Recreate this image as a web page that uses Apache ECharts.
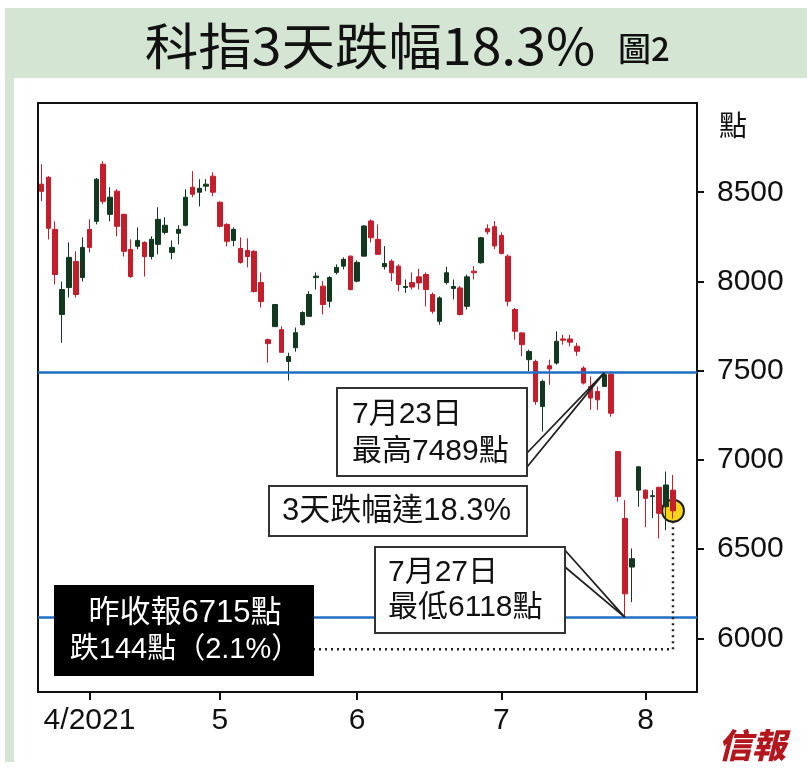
<!DOCTYPE html>
<html>
<head>
<meta charset="utf-8">
<style>
html,body{margin:0;padding:0;background:#ffffff;}
#c{width:807px;height:775px;}
</style>
<script src="https://cdn.jsdelivr.net/npm/echarts@6/dist/echarts.min.js"></script>
</head>
<body>
<div id="c"></div>
<script>
// ---- trading days (2021) ----
const marchDays  = [23,24,25,26,29,30,31];
const aprilDays  = [1,7,8,9,12,13,14,15,16,19,20,21,22,23,26,27,28,29,30];
const mayDays    = [3,4,5,6,7,10,11,12,13,14,17,18,20,21,24,25,26,27,28,31];
const juneDays   = [1,2,3,4,7,8,9,10,11,15,16,17,18,21,22,23,24,25,28,29,30];
const julyDays   = [2,5,6,7,8,9,12,13,14,15,16,19,20,21,22,23,26,27,28,29,30];
const augustDays = [2,3,4,5,6];
const emptyAugustSlots = [9,10,11];

// ---- OHLC values (points) ----
const opens = [
 8545,8584,8292,7815,7966,8112,8022,
 8292,8337,8657,8376,8506,8376,8180,8197,8219,8140,8208,8275,8163,8270,8315,8528,8500,8534,8590,
 8444,8320,8230,8185,8174,8169,7994,7674,7747,7730,7552,7629,7758,7805,8022,7974,7889,8051,8086,8142,
 8002,8142,8339,8236,8083,8114,8086,7966,7994,8026,8039,7927,7777,7994,7961,7964,7861,8058,8105,8296,8307,
 8258,8142,7843,7712,7562,7552,7300,7528,7543,7678,7678,7637,7515,7412,7384,7412,7480,7047,6672,6400,6831,
 6831,6795,6847,6738,6831
];
const closes = [
 8505,8298,8039,7955,8135,7927,8191,
 8191,8573,8449,8472,8309,8169,8028,8230,8140,8236,8348,8315,8191,8292,8472,8489,8522,8545,8500,
 8309,8225,8292,8107,8140,7944,7888,7652,7871,7603,7580,7713,7826,7927,8030,7871,8022,8079,8124,7955,
 8107,8311,8245,8152,8101,8049,7983,7972,7969,7992,7955,7833,7908,8049,7972,7815,8026,8049,8245,8278,8199,
 8157,7889,7721,7646,7608,7327,7440,7510,7665,7671,7660,7609,7431,7347,7337,7478,7262,6795,6250,6447,6962,
 6785,6800,6701,6860,6715
];
const lows = [
 8450,8236,7983,7657,7910,7910,8000,
 8163,8320,8433,8337,8253,8140,8020,8180,8028,8124,8152,8264,8124,8208,8309,8472,8421,8506,8478,
 8303,8197,8197,8100,8079,7938,7854,7545,7747,7600,7445,7607,7753,7805,7955,7815,7854,8040,8068,7950,
 7995,8142,8219,8152,8067,8002,7945,7936,7955,7955,7860,7820,7758,7983,7899,7810,7843,8011,8100,8264,8180,
 8152,7861,7674,7581,7497,7309,7159,7421,7534,7646,7637,7584,7423,7281,7281,7412,7243,6767,6118,6204,6738,
 6624,6674,6560,6607,6672
];
const highs = [
 8657,8590,8337,8000,8219,8169,8247,
 8348,8580,8674,8528,8517,8380,8236,8303,8225,8253,8416,8360,8230,8315,8517,8618,8573,8573,8612,
 8449,8326,8303,8247,8242,8175,8051,7680,7871,7749,7601,7742,7833,7945,8051,8002,8030,8096,8135,8145,
 8118,8315,8348,8320,8198,8124,8096,8011,8051,8071,8051,7938,7917,8083,8011,7975,8039,8086,8250,8320,8339,
 8275,8152,7852,7715,7618,7562,7450,7562,7721,7702,7702,7656,7525,7468,7412,7489,7489,7047,6775,6504,6962,
 6835,6831,6850,6935,6916
];

// ---- ticks / labels / annotations ----
const monthLabels = {'2021-04-01':'4/2021','2021-05-03':'5','2021-06-01':'6','2021-07-02':'7','2021-08-02':'8'};
const yTicks = [6000,6500,7000,7500,8000,8500];
const yMin = 5700, yMax = 9000;
const peakDate = '2021-07-23', peakValue = 7489;
const troughDate = '2021-07-28', troughValue = 6118;
const lastClose = 6715;
const dottedLevel = 5940;

function pad(n){return (n<10?'0':'')+n;}
const categories = [];
[[3,marchDays],[4,aprilDays],[5,mayDays],[6,juneDays],[7,julyDays],[8,augustDays],[8,emptyAugustSlots]]
  .forEach(([m,days]) => days.forEach(d => categories.push('2021-'+pad(m)+'-'+pad(d))));

const candles = opens.map((o,i) => [o, closes[i], lows[i], highs[i]]);
const lastIdx = opens.length - 1;

const UP = '#12391f', DOWN = '#c41d2b';
const FONT = '"Liberation Sans","Noto Sans CJK TC",sans-serif';
const CJK = '"Noto Sans CJK TC",sans-serif';
const isMonthStart = (i, v) => monthLabels[v] !== undefined;

const chart = echarts.init(document.getElementById('c'), null, {renderer:'canvas'});
chart.setOption({
  animation:false,
  backgroundColor:'#ffffff',
  grid:{left:38,right:110,top:103,bottom:83,show:true,borderColor:'#111',borderWidth:2,backgroundColor:'#fff'},
  xAxis:{
    type:'category', data:categories, boundaryGap:true,
    axisLine:{show:true,lineStyle:{color:'#111',width:2}},
    axisTick:{show:true,interval:isMonthStart,alignWithLabel:true,length:8,lineStyle:{color:'#111',width:2}},
    axisLabel:{interval:isMonthStart,formatter:v=>monthLabels[v]||'',fontSize:30,color:'#111',margin:14,fontFamily:FONT},
    splitLine:{show:false}
  },
  yAxis:{
    type:'value', position:'right', min:yMin, max:yMax, scale:true,
    axisLine:{show:true,lineStyle:{color:'#111',width:2}},
    axisTick:{show:true,customValues:yTicks,length:7,lineStyle:{color:'#111',width:2}},
    axisLabel:{customValues:yTicks,formatter:v=>String(v),fontSize:30,color:'#111',margin:20,fontFamily:FONT},
    splitLine:{show:false}
  },
  series:[
    {
      type:'scatter', z:2,
      data:[[lastIdx,lastClose]], symbolSize:22,
      itemStyle:{color:'#f6d418',borderColor:'#1a1a1a',borderWidth:2,opacity:1}
    },
    {
      type:'candlestick', z:3,
      data:candles, barWidth:5,
      itemStyle:{color:UP,color0:DOWN,borderColor:UP,borderColor0:DOWN,borderWidth:1},
      markLine:{
        silent:true, symbol:'none', animation:false,
        label:{show:false},
        lineStyle:{color:'#1f6fc5',width:2.5,type:'solid'},
        data:[{yAxis:peakValue},{yAxis:troughValue}]
      }
    }
  ]
});

const peakPx = chart.convertToPixel({seriesIndex:1},[categories.indexOf(peakDate),peakValue]);
const troughPx = chart.convertToPixel({seriesIndex:1},[categories.indexOf(troughDate),troughValue]);
const lastPx = chart.convertToPixel({seriesIndex:1},[lastIdx,lastClose]);
const dotY = chart.convertToPixel({yAxisIndex:0},dottedLevel);

function box(x,y,w,h,fill,stroke){
  return {type:'rect',z:100,shape:{x:x,y:y,width:w,height:h},style:{fill:fill,stroke:stroke,lineWidth:2}};
}
function txt(t,x,y,size,color,align){
  return {type:'text',z:101,style:{text:t,x:x,y:y,fontSize:size,fontFamily:FONT,fill:color,align:align||'left',verticalAlign:'middle'}};
}

chart.setOption({
  graphic:[
    {type:'rect',z:-10,silent:true,shape:{x:5,y:8,width:802,height:70},style:{fill:'#d5e5d3'}},
    {type:'rect',z:-10,silent:true,shape:{x:5,y:78,width:9,height:684},style:{fill:'#d5e5d3'}},
    {type:'text',z:10,x:370,y:46,scaleX:1.07,style:{text:'科指3天跌幅18.3%',x:0,y:0,fontSize:50,fontFamily:CJK,fill:'#111',align:'center',verticalAlign:'middle'}},
    {type:'text',z:10,style:{text:'圖2',x:618,y:48,fontSize:33,fontWeight:500,fontFamily:CJK,fill:'#111',align:'left',verticalAlign:'middle'}},
    txt('點',733,128,28,'#111','center'),
    // dotted guide from last close
    {type:'polyline',z:90,shape:{points:[[313,dotY],[lastPx[0],dotY],[lastPx[0],lastPx[1]+11]]},style:{stroke:'#222',lineWidth:2.5,lineDash:[2,4],fill:null}},
    // 7/23 callout
    {type:'polyline',z:99,shape:{points:[[527,453],[peakPx[0],peakPx[1]],[527,467]]},style:{stroke:'#222',lineWidth:1.8,fill:null}},
    box(337,388,190,88,'#fff','#333'),
    txt('7月23日',352,415,30,'#111'),
    txt('最高7489點',352,452,30,'#111'),
    // 3-day drop
    box(269,486,258,50,'#fff','#333'),
    txt('3天跌幅達18.3%',282,511,31,'#111'),
    // 7/27 callout
    {type:'polyline',z:99,shape:{points:[[563,548],[troughPx[0],troughPx[1]],[565,567]]},style:{stroke:'#222',lineWidth:1.8,fill:null}},
    box(375,547,190,86,'#fff','#333'),
    txt('7月27日',388,573,30,'#111'),
    txt('最低6118點',388,608,30,'#111'),
    // black box
    box(55,586,258,89,'#000','#000'),
    txt('昨收報6715點',185,613,31,'#fff','center'),
    txt('跌144點（2.1%）',185,650,29,'#fff','center'),
    // logo
    {type:'text',z:10,style:{text:'信報',x:752,y:745,fontSize:34,fontWeight:900,fontStyle:'italic',fontFamily:CJK,fill:'#b3161c',align:'center',verticalAlign:'middle'}}
  ]
});
</script>
</body>
</html>
